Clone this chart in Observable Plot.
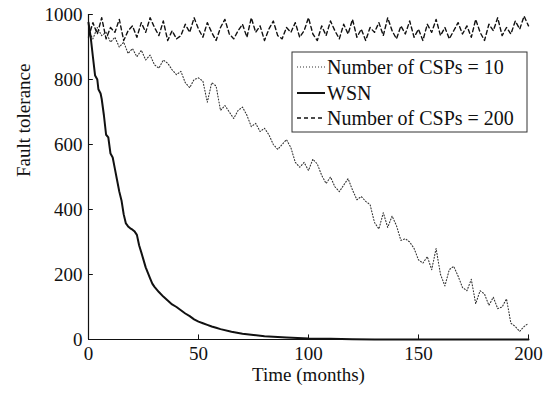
<!DOCTYPE html>
<html>
<head>
<meta charset="utf-8">
<script src="https://cdn.jsdelivr.net/npm/d3@7"></script>
<script src="https://cdn.jsdelivr.net/npm/@observablehq/plot@0.6"></script>
<style>
  html, body { margin: 0; padding: 0; background: #fff; }
</style>
</head>
<body>
<div id="chart"></div>
<script>
// ---- Data ----
const xTicks = [0, 50, 100, 150, 200];
const yTicks = [0, 200, 400, 600, 800, 1000];

// Number of CSPs = 10 (every 2 months)
const csp10Months = d3.range(0, 201, 2);
const csp10Values = [
  950, 925, 960, 935, 945, 915, 930, 900, 915, 880,
  895, 870, 890, 860, 875, 845, 835, 860, 850, 830,
  815, 825, 790, 775, 800, 805, 795, 730, 790, 780,
  705, 720, 700, 680, 705, 715, 690, 655, 665, 640,
  650, 630, 600, 585, 600, 615, 590, 545, 530, 545,
  520, 555, 540, 505, 480, 500, 470, 455, 475, 495,
  460, 430, 440, 425, 415, 360, 340, 390, 345, 380,
  350, 305, 310, 300, 280, 245, 235, 255, 215, 280,
  200, 165, 215, 225, 195, 160, 150, 185, 110, 150,
  140, 105, 130, 95, 100, 125, 50, 40, 25, 40, 50
];

// Number of CSPs = 200 (every 2 months)
const csp200Months = d3.range(0, 201, 2);
const csp200Values = [
  930, 975, 940, 990, 925, 960, 945, 985, 920, 950, 965, 930, 975, 945, 990, 960, 935, 980, 920, 950,
  925, 935, 970, 945, 990, 955, 930, 975, 945, 920, 960, 985, 940, 925, 950, 970, 930, 990, 945, 965,
  920, 955, 980, 935, 925, 960, 945, 975, 930, 950, 990, 940, 920, 965, 935, 980, 950, 925, 970, 940,
  985, 930, 955, 920, 960, 945, 975, 935, 990, 950, 925, 965, 940, 980, 930, 955, 920, 970, 945, 985,
  935, 960, 925, 950, 975, 940, 965, 930, 985, 945, 920, 970, 950, 990, 935, 960, 940, 980, 955, 995, 965
];

// WSN
const wsnMonths = [0, 1, 2, 3, 4, 4.5, 5.5, 6, 7, 8, 9, 10, 11, 12, 13, 14, 15, 16, 17, 18, 19, 20, 21, 22, 23, 24, 25, 26, 27, 28, 29, 30,
  32, 34, 36, 38, 40, 42, 44, 46, 48, 50, 52, 54, 56, 58, 60, 65, 70, 75, 80, 90, 100, 110, 120, 130, 140, 150, 160, 170, 180, 190, 200];
const wsnValues = [975, 930, 870, 812, 800, 770, 757, 740, 690, 630, 622, 572, 560, 525, 490, 455, 428, 385, 357, 348, 342, 338, 332, 322, 290, 268, 245, 222, 205, 188, 172, 162,
  146, 132, 120, 108, 100, 90, 80, 72, 62, 55, 50, 45, 40, 36, 32, 24, 18, 14, 10, 6, 3, 2, 1, 0, 0, 0, 0, 0, 0, 0, 0];

const legendLabels = ["Number of CSPs = 10", "WSN", "Number of CSPs = 200"];

// ---- Build tables ----
const csp10 = csp10Months.map((m, i) => ({m, v: csp10Values[i]}));
const csp200 = csp200Months.map((m, i) => ({m, v: csp200Values[i]}));
const wsn = wsnMonths.map((m, i) => ({m, v: wsnValues[i]}));

const font = "Liberation Serif";
const fs = 19;

const styles = [
  {stroke: "#333", strokeWidth: 1.1, strokeDasharray: "1,2"},
  {stroke: "#111", strokeWidth: 2, strokeDasharray: null},
  {stroke: "#111", strokeWidth: 1.4, strokeDasharray: "4,3"}
];

const plot = Plot.plot({
  width: 553,
  height: 394,
  marginLeft: 88,
  marginRight: 25,
  marginTop: 14,
  marginBottom: 55,
  style: {fontSize: fs + "px", background: "#fff", color: "#111"},
  x: {domain: [0, 200]},
  y: {domain: [0, 1000]},
  marks: [
    Plot.line(csp10, {x: "m", y: "v", ...styles[0]}),
    Plot.line(csp200, {x: "m", y: "v", ...styles[2]}),
    Plot.line(wsn, {x: "m", y: "v", ...styles[1], curve: "linear"}),
    Plot.ruleX([0], {stroke: "#111", strokeWidth: 1.2}),
    Plot.ruleY([0], {stroke: "#111", strokeWidth: 1.2}),
    Plot.ruleX(xTicks, {x: d => d, y1: 0, y2: 14, stroke: "#111", strokeWidth: 1}),
    Plot.ruleY(yTicks, {y: d => d, x1: 0, x2: 2.2, stroke: "#111", strokeWidth: 1}),
    Plot.axisX({ticks: xTicks, tickSize: 0, tickPadding: 7, label: null, fontSize: fs, fontFamily: font, tickFormat: d3.format("d")}),
    Plot.axisY({ticks: yTicks, tickSize: 0, tickPadding: 6, label: null, fontSize: fs, fontFamily: font, tickFormat: d3.format("d")}),
    Plot.text(["Time (months)"], {frameAnchor: "bottom", dy: 41, fontSize: fs, fontFamily: font, fill: "#111"}),
    Plot.text(["Fault tolerance"], {frameAnchor: "left", dx: -65, rotate: -90, fontSize: fs, fontFamily: font, fill: "#111"})
  ]
});

document.getElementById("chart").appendChild(plot);

// ---- Legend (inside plot area, upper right) ----
const svg = d3.select(plot);
const lx = 292, ly = 52, lw = 235, lh = 80;
const g = svg.append("g").attr("text-anchor", "start").attr("font-family", font);
g.append("rect").attr("x", lx).attr("y", ly).attr("width", lw).attr("height", lh)
  .attr("fill", "#fff").attr("stroke", "#333").attr("stroke-width", 1);
const rowY = [67, 93, 118];
legendLabels.forEach((lab, i) => {
  const s = styles[i];
  const line = g.append("line")
    .attr("x1", lx + 5).attr("x2", lx + 33)
    .attr("y1", rowY[i]).attr("y2", rowY[i])
    .attr("stroke", s.stroke).attr("stroke-width", s.strokeWidth);
  if (s.strokeDasharray) line.attr("stroke-dasharray", s.strokeDasharray);
  g.append("text")
    .attr("x", lx + 35).attr("y", rowY[i])
    .attr("dy", "0.35em")
    .attr("text-anchor", "start")
    .attr("font-family", font)
    .attr("font-size", fs + 1)
    .attr("fill", "#111")
    .text(lab);
});
</script>
</body>
</html>
